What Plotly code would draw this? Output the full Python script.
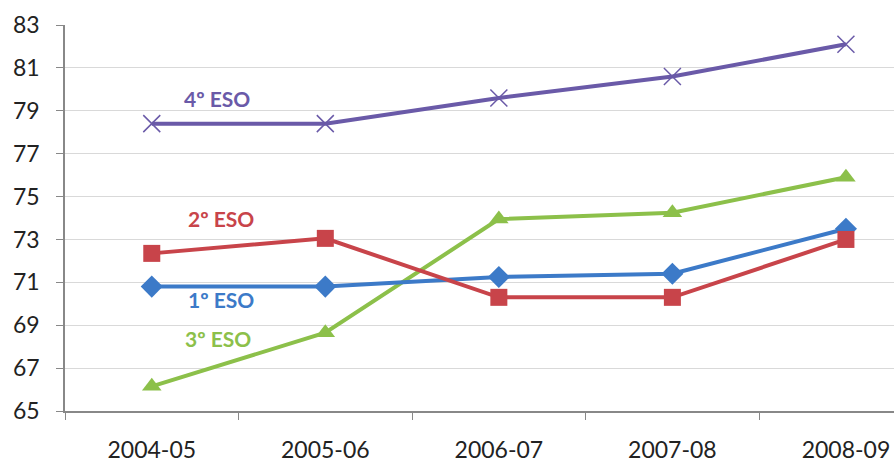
import plotly.graph_objects as go

cursos = ["2004-05", "2005-06", "2006-07", "2007-08", "2008-09"]
eso1 = [70.8, 70.8, 71.25, 71.4, 73.5]
eso2 = [72.35, 73.05, 70.3, 70.3, 73.0]
eso3 = [66.15, 68.65, 73.95, 74.25, 75.9]
eso4 = [78.4, 78.4, 79.6, 80.6, 82.1]

fig = go.Figure()

fig.add_trace(go.Scatter(x=cursos, y=eso4, mode='lines+markers', name='4º ESO',
                         line=dict(color='#6a5aa8', width=4),
                         marker=dict(symbol='x-thin-open', size=17,
                                     line=dict(color='#8a82b0', width=1.5))))
fig.add_trace(go.Scatter(x=cursos, y=eso3, mode='lines+markers', name='3º ESO',
                         line=dict(color='#8cc04a', width=4),
                         marker=dict(symbol='triangle-up', size=17, color='#8cc04a')))
fig.add_trace(go.Scatter(x=cursos, y=eso1, mode='lines+markers', name='1º ESO',
                         line=dict(color='#3c7ac8', width=4),
                         marker=dict(symbol='diamond', size=17, color='#3c7ac8')))
fig.add_trace(go.Scatter(x=cursos, y=eso2, mode='lines+markers', name='2º ESO',
                         line=dict(color='#c8444a', width=4),
                         marker=dict(symbol='square', size=17, color='#c8444a')))

# etiquetas de las series
labels = [("4º ESO", 0.375, 79.55, '#6a5aa8'),
          ("2º ESO", 0.40, 74.0, '#c8444a'),
          ("1º ESO", 0.40, 70.22, '#3c7ac8'),
          ("3º ESO", 0.38, 68.4, '#8cc04a')]
for txt, x, y, c in labels:
    fig.add_annotation(x=x, y=y, text="<b>" + txt + "</b>", showarrow=False,
                       font=dict(size=21, color=c, family="Lato"))

fig.update_layout(
    width=894, height=465,
    margin=dict(l=65, r=0, t=25, b=54, autoexpand=False),
    plot_bgcolor='white', paper_bgcolor='white',
    showlegend=False,
    font=dict(family="Lato", size=23, color='#222222'),
)

fig.update_xaxes(type='category', range=[-0.5, 4.277], automargin=False,
                 tickson='boundaries', ticks='outside', ticklen=7,
                 tickcolor='#888888', showgrid=False, ticklabelstandoff=18,
                 showline=True, linecolor='#888888', linewidth=1.5)
fig.update_yaxes(range=[65, 83], dtick=2, tick0=65, automargin=False,
                 ticks='outside', ticklen=7, tickcolor='#888888',
                 showgrid=True, gridcolor='#d9d9d9', gridwidth=1,
                 showline=True, linecolor='#888888', linewidth=1.5,
                 zeroline=False, ticklabelstandoff=12)

# quitar el margen por defecto del body para que la figura quepa entera
fig.write_html("out.html", config={'displayModeBar': False},
               post_script="document.body.style.margin='0';document.body.style.overflow='hidden';")
